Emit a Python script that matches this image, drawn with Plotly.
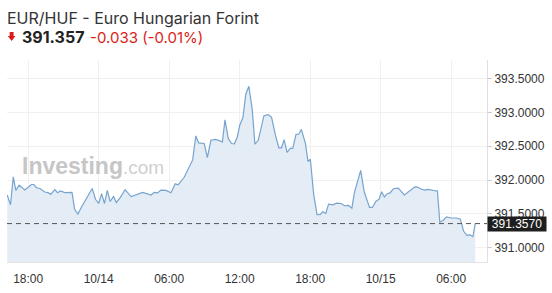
import plotly.graph_objects as go

# ---- data ----
times = [
    "2024-10-13 16:13", "2024-10-13 16:30", "2024-10-13 16:44", "2024-10-13 16:57", "2024-10-13 17:14",
    "2024-10-13 17:43", "2024-10-13 18:17", "2024-10-13 18:29", "2024-10-13 18:43", "2024-10-13 19:00",
    "2024-10-13 19:25", "2024-10-13 19:42", "2024-10-13 19:55", "2024-10-13 20:16", "2024-10-13 20:30",
    "2024-10-13 20:45", "2024-10-13 21:07", "2024-10-13 21:44", "2024-10-13 21:57", "2024-10-13 22:14",
    "2024-10-13 22:31", "2024-10-13 23:05", "2024-10-13 23:27", "2024-10-13 23:44", "2024-10-14 00:00",
    "2024-10-14 00:15", "2024-10-14 00:30", "2024-10-14 00:44", "2024-10-14 00:59", "2024-10-14 01:16",
    "2024-10-14 01:30", "2024-10-14 01:50", "2024-10-14 02:15", "2024-10-14 02:46", "2024-10-14 03:45",
    "2024-10-14 04:28", "2024-10-14 04:44", "2024-10-14 05:01", "2024-10-14 05:18", "2024-10-14 05:44",
    "2024-10-14 06:09", "2024-10-14 06:31", "2024-10-14 06:46", "2024-10-14 07:17", "2024-10-14 07:34",
    "2024-10-14 08:00", "2024-10-14 08:16", "2024-10-14 08:30", "2024-10-14 08:59", "2024-10-14 09:15",
    "2024-10-14 09:33", "2024-10-14 09:58", "2024-10-14 10:32", "2024-10-14 10:45", "2024-10-14 11:02",
    "2024-10-14 11:19", "2024-10-14 11:33", "2024-10-14 11:48", "2024-10-14 12:00", "2024-10-14 12:17",
    "2024-10-14 12:31", "2024-10-14 12:47", "2024-10-14 13:04", "2024-10-14 13:18", "2024-10-14 13:35",
    "2024-10-14 14:04", "2024-10-14 14:26", "2024-10-14 14:43", "2024-10-14 15:03", "2024-10-14 15:20",
    "2024-10-14 15:34", "2024-10-14 15:47", "2024-10-14 16:02", "2024-10-14 16:19", "2024-10-14 16:31",
    "2024-10-14 16:48", "2024-10-14 17:02", "2024-10-14 17:15", "2024-10-14 17:36", "2024-10-14 17:49",
    "2024-10-14 18:01", "2024-10-14 18:18", "2024-10-14 18:35", "2024-10-14 18:52", "2024-10-14 19:04",
    "2024-10-14 19:20", "2024-10-14 19:34", "2024-10-14 19:55", "2024-10-14 20:16", "2024-10-14 20:39",
    "2024-10-14 20:55", "2024-10-14 21:16", "2024-10-14 21:33", "2024-10-14 21:46", "2024-10-14 22:18",
    "2024-10-14 22:36", "2024-10-14 23:03", "2024-10-14 23:18", "2024-10-14 23:35", "2024-10-14 23:52",
    "2024-10-15 00:05", "2024-10-15 00:19", "2024-10-15 00:33", "2024-10-15 00:48", "2024-10-15 01:05",
    "2024-10-15 01:30", "2024-10-15 02:01", "2024-10-15 02:55", "2024-10-15 03:08", "2024-10-15 03:26",
    "2024-10-15 03:46", "2024-10-15 04:03", "2024-10-15 04:37", "2024-10-15 04:50", "2024-10-15 05:02",
    "2024-10-15 05:19", "2024-10-15 05:36", "2024-10-15 06:01", "2024-10-15 06:27", "2024-10-15 06:47",
    "2024-10-15 07:04", "2024-10-15 07:21", "2024-10-15 07:35", "2024-10-15 07:51", "2024-10-15 08:03",
]
prices = [
    391.780, 391.635, 392.047, 391.847, 391.926,
    391.853, 391.935, 391.935, 391.887, 391.876,
    391.824, 391.814, 391.789, 391.858, 391.814,
    391.839, 391.814, 391.818, 391.571, 391.499,
    391.596, 391.766, 391.876, 391.717, 391.654,
    391.799, 391.654, 391.847, 391.683, 391.760,
    391.669, 391.741, 391.858, 391.756, 391.818,
    391.780, 391.818, 391.810, 391.853, 391.847,
    391.814, 391.945, 391.930, 392.042, 392.153,
    392.298, 392.653, 392.551, 392.541, 392.333,
    392.589, 392.603, 392.565, 392.890, 392.613,
    392.541, 392.536, 392.638, 392.807, 392.929,
    393.267, 393.388, 393.049, 392.531, 392.589,
    392.952, 392.967, 392.929, 392.661, 392.478,
    392.478, 392.599, 392.410, 392.468, 392.468,
    392.676, 392.682, 392.749, 392.541, 392.275,
    392.308, 391.789, 391.490, 391.494, 391.533,
    391.509, 391.644, 391.635, 391.658, 391.654,
    391.621, 391.625, 391.586, 391.814, 392.144,
    391.828, 391.596, 391.596, 391.683, 391.717,
    391.828, 391.751, 391.799, 391.810, 391.872,
    391.882, 391.780, 391.901, 391.897, 391.868,
    391.853, 391.862, 391.843, 391.839, 391.378,
    391.403, 391.455, 391.440, 391.440, 391.422,
    391.243, 391.179, 391.193, 391.164, 391.357,
]
last_price = 391.357
change = -0.033
change_pct = -0.01

x_tickvals = ["2024-10-13 18:00", "2024-10-14 00:00", "2024-10-14 06:00", "2024-10-14 12:00",
              "2024-10-14 18:00", "2024-10-15 00:00", "2024-10-15 06:00"]
x_ticktext = ["18:00", "10/14", "06:00", "12:00", "18:00", "10/15", "06:00"]
y_tickvals = [391.0, 391.5, 392.0, 392.5, 393.0, 393.5]
x_range = ["2024-10-13 16:12", "2024-10-15 09:03"]
y_range = [390.789, 393.776]

LINE = "#76a4cf"
FILL = "#e4edf5"
RED = "#d91e18"
TICKFONT = dict(family="Liberation Sans, Arial, sans-serif", size=12, color="#333333")

fig = go.Figure()
fig.add_trace(go.Scatter(
    x=times, y=prices, mode="lines",
    line=dict(color=LINE, width=1.2),
    fill="tozeroy", fillcolor=FILL,
    hoverinfo="skip", showlegend=False,
))

fig.update_layout(
    width=552, height=293,
    margin=dict(l=7, r=63, t=60, b=28),
    paper_bgcolor="white", plot_bgcolor="white",
    showlegend=False,
    xaxis=dict(
        type="date", range=x_range,
        tickvals=x_tickvals, ticktext=x_ticktext,
        showgrid=True, gridcolor="#f0f0f0", gridwidth=1,
        showline=True, linecolor="#e3e3e3", linewidth=1,
        ticks="outside", ticklen=6, tickcolor="rgba(0,0,0,0)",
        tickfont=TICKFONT, zeroline=False,
    ),
    yaxis=dict(
        range=y_range, side="right",
        tickvals=y_tickvals, tickformat=".4f",
        showgrid=True, gridcolor="#f0f0f0", gridwidth=1,
        showline=True, linecolor="#e0e0e0", linewidth=1,
        ticks="outside", ticklen=4, tickcolor="#cccccc",
        tickfont=TICKFONT, zeroline=False,
    ),
)

# current price dashed line
fig.add_shape(type="line", xref="paper", x0=0, x1=1, yref="y", y0=last_price, y1=last_price,
              line=dict(color="#555555", width=1, dash="5px,4px"))

# price tag on the axis
fig.add_annotation(xref="paper", x=1, yref="y", y=last_price, xanchor="left", yanchor="middle",
                   text=f"{last_price:.4f}", showarrow=False, bgcolor="#1e1e1e",
                   width=58, height=14, borderpad=0,
                   font=dict(family="Liberation Sans, Arial, sans-serif", size=12, color="white"))

# header
fig.add_annotation(xref="paper", yref="paper", x=0, y=1.2092, xanchor="left", yanchor="middle",
                   xshift=-2, text="EUR/HUF - Euro Hungarian Forint", showarrow=False,
                   font=dict(family="Inter, sans-serif", size=16, color="#333333"))
fig.add_annotation(xref="paper", yref="paper", x=0.0311, y=1.1119, xanchor="left", yanchor="middle",
                   xshift=-2, text=f"<b>{last_price:.3f}</b>", showarrow=False,
                   font=dict(family="Inter, sans-serif", size=16, color="#222222"))
fig.add_annotation(xref="paper", yref="paper", x=0.1722, y=1.1119, xanchor="left", yanchor="middle",
                   xshift=-2, text=f"{change:.3f} ({change_pct:.2f}%)", showarrow=False,
                   font=dict(family="Inter, sans-serif", size=15, color=RED))
# down arrow
fig.add_shape(type="path", xref="paper", yref="paper",
              path="M 0.0056 1.1380 L 0.0137 1.1380 L 0.0137 1.1192 L 0.0176 1.1192 "
                   "L 0.00965 1.0940 L 0.0017 1.1192 L 0.0056 1.1192 Z",
              fillcolor=RED, line=dict(width=0))

# watermark
fig.add_annotation(xref="paper", yref="paper", x=0.0305, y=0.4745, xanchor="left", yanchor="middle",
                   xshift=-2,
                   text="<b>Investing</b><span style='font-size:19px;color:#cfcfcf'>.com</span>",
                   showarrow=False,
                   font=dict(family="Liberation Sans, Arial, sans-serif", size=23, color="#c6c6c6"))

fig.write_html("out.html")
